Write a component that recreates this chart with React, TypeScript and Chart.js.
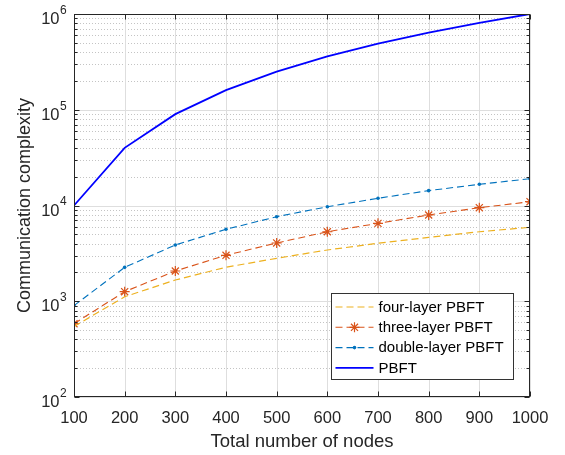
import React, { useEffect, useRef } from "react";
import { Chart, registerables } from "chart.js";

Chart.register(...registerables);

// Number of nodes in the network
const nodes = [100, 200, 300, 400, 500, 600, 700, 800, 900, 1000];

// Communication complexity for each consensus variant
const fourLayer = [545, 1114, 1667, 2265, 2810, 3430, 4030, 4650, 5320, 5920];
const threeLayer = [583, 1259, 2070, 3020, 4060, 5320, 6510, 7960, 9480, 10960];
const doubleLayer = [900, 2260, 3870, 5640, 7640, 9700, 11900, 14300, 16650, 19050];
const pbft = [10000, 40000, 90000, 160000, 250000, 360000, 490000, 640000, 810000, 1000000];

// Axis ticks
const xTicks = [100, 200, 300, 400, 500, 600, 700, 800, 900, 1000];
const yExponents = [2, 3, 4, 5, 6];

const seriesNames = ["four-layer PBFT", "three-layer PBFT", "double-layer PBFT", "PBFT"];

const FONT = "'Liberation Sans', Arial, Helvetica, sans-serif";
const AXIS_COLOR = "#262626";
const DASH = [7, 4];

const pairs = (ys: number[]) => nodes.map((x, i) => ({ x, y: ys[i] }));

// Every tick on the log axis: 1..9 x 10^n, plus the top decade
const logTickValues = (): { value: number; major: boolean }[] => {
  const out: { value: number; major: boolean }[] = [];
  const lo = yExponents[0];
  const hi = yExponents[yExponents.length - 1];
  for (let e = lo; e < hi; e++) {
    for (let s = 1; s <= 9; s++) out.push({ value: s * Math.pow(10, e), major: s === 1 });
  }
  out.push({ value: Math.pow(10, hi), major: true });
  return out;
};

const framePlugin = {
  id: "matlabFrame",
  beforeDatasetsDraw(chart: any) {
    const { ctx, chartArea, scales } = chart;
    const { left, right, top, bottom } = chartArea;
    const x = scales.x;
    const y = scales.y;
    ctx.save();
    ctx.lineWidth = 1;
    // minor dotted grid on the log axis
    ctx.strokeStyle = "#c4c4c4";
    ctx.setLineDash([1, 2]);
    for (const t of logTickValues()) {
      if (t.major) continue;
      const py = Math.round(y.getPixelForValue(t.value)) + 0.5;
      ctx.beginPath();
      ctx.moveTo(left, py);
      ctx.lineTo(right, py);
      ctx.stroke();
    }
    // major solid grid
    ctx.setLineDash([]);
    ctx.strokeStyle = "#dedede";
    for (const t of logTickValues()) {
      if (!t.major) continue;
      const py = Math.round(y.getPixelForValue(t.value)) + 0.5;
      ctx.beginPath();
      ctx.moveTo(left, py);
      ctx.lineTo(right, py);
      ctx.stroke();
    }
    for (const v of xTicks) {
      const px = Math.round(x.getPixelForValue(v)) + 0.5;
      ctx.beginPath();
      ctx.moveTo(px, top);
      ctx.lineTo(px, bottom);
      ctx.stroke();
    }
    ctx.restore();
  },
  afterDatasetsDraw(chart: any) {
    const { ctx, chartArea, scales } = chart;
    const { left, right, top, bottom } = chartArea;
    const x = scales.x;
    const y = scales.y;
    ctx.save();
    ctx.strokeStyle = AXIS_COLOR;
    ctx.lineWidth = 1;
    ctx.setLineDash([]);
    const L = Math.round(left) + 0.5;
    const R = Math.round(right) - 0.5;
    const T = Math.round(top) + 0.5;
    const B = Math.round(bottom) - 0.5;
    ctx.strokeRect(L, T, R - L, B - T);

    // inward tick marks
    ctx.beginPath();
    for (const v of xTicks) {
      const px = Math.round(x.getPixelForValue(v)) + 0.5;
      ctx.moveTo(px, B);
      ctx.lineTo(px, B - 5);
      ctx.moveTo(px, T);
      ctx.lineTo(px, T + 5);
    }
    for (const t of logTickValues()) {
      const py = Math.round(y.getPixelForValue(t.value)) + 0.5;
      const len = t.major ? 5 : 3;
      ctx.moveTo(L, py);
      ctx.lineTo(L + len, py);
      ctx.moveTo(R, py);
      ctx.lineTo(R - len, py);
    }
    ctx.stroke();

    // power-of-ten labels
    ctx.fillStyle = AXIS_COLOR;
    for (const e of yExponents) {
      const py = y.getPixelForValue(Math.pow(10, e));
      ctx.font = `16.5px ${FONT}`;
      ctx.textAlign = "right";
      ctx.textBaseline = "middle";
      ctx.fillText("10", left - 14.5, py + 5.5);
      ctx.font = `12px ${FONT}`;
      ctx.textAlign = "left";
      ctx.fillText(String(e), left - 14, py - 3.5);
    }

    // legend
    const boxRight = right - 17;
    const boxBottom = bottom - 18;
    const boxW = 182;
    const boxH = 86;
    const bx = Math.round(boxRight - boxW) + 0.5;
    const by = Math.round(boxBottom - boxH) + 0.5;
    ctx.fillStyle = "#ffffff";
    ctx.fillRect(bx, by, boxW, boxH);
    ctx.strokeStyle = "#333333";
    ctx.lineWidth = 1;
    ctx.strokeRect(bx, by, boxW, boxH);
    const datasets = chart.data.datasets;
    datasets.forEach((ds: any, i: number) => {
      const cy = by + 13.5 + i * 20.3;
      const x0 = bx + 4;
      const x1 = bx + 42;
      ctx.save();
      ctx.strokeStyle = ds.borderColor;
      ctx.lineWidth = ds.borderWidth;
      ctx.setLineDash(ds.borderDash || []);
      ctx.beginPath();
      ctx.moveTo(x0, cy);
      ctx.lineTo(x1, cy);
      ctx.stroke();
      ctx.restore();
      const mx = (x0 + x1) / 2;
      if (ds.pointStyle === "star") {
        ctx.save();
        ctx.strokeStyle = ds.borderColor;
        ctx.lineWidth = 1.2;
        const r = 5;
        ctx.beginPath();
        for (let k = 0; k < 4; k++) {
          const a = (k * Math.PI) / 4;
          ctx.moveTo(mx - r * Math.cos(a), cy - r * Math.sin(a));
          ctx.lineTo(mx + r * Math.cos(a), cy + r * Math.sin(a));
        }
        ctx.stroke();
        ctx.restore();
      } else if (ds.pointRadius > 0) {
        ctx.fillStyle = ds.borderColor;
        ctx.beginPath();
        ctx.arc(mx, cy, ds.pointRadius, 0, Math.PI * 2);
        ctx.fill();
      }
      ctx.fillStyle = "#000000";
      ctx.font = `15px ${FONT}`;
      ctx.textAlign = "left";
      ctx.textBaseline = "middle";
      ctx.fillText(ds.label, bx + 47, cy + 0.5);
    });
    ctx.restore();
  },
};

export default function App() {
  const canvasRef = useRef<HTMLCanvasElement | null>(null);

  useEffect(() => {
    const canvas = canvasRef.current;
    if (!canvas) return;
    const chart = new Chart(canvas, {
      type: "line",
      data: {
        datasets: [
          {
            label: seriesNames[0],
            data: pairs(fourLayer),
            borderColor: "#EDB120",
            backgroundColor: "#EDB120",
            borderWidth: 1.2,
            borderDash: DASH,
            pointRadius: 0,
            tension: 0,
          },
          {
            label: seriesNames[1],
            data: pairs(threeLayer),
            borderColor: "#D95319",
            backgroundColor: "#D95319",
            borderWidth: 1.1,
            borderDash: DASH,
            pointStyle: "star",
            pointRadius: 5,
            pointBorderWidth: 1.2,
            tension: 0,
          },
          {
            label: seriesNames[2],
            data: pairs(doubleLayer),
            borderColor: "#0072BD",
            backgroundColor: "#0072BD",
            borderWidth: 1.1,
            borderDash: DASH,
            pointStyle: "circle",
            pointRadius: 1.8,
            pointBorderWidth: 0,
            tension: 0,
          },
          {
            label: seriesNames[3],
            data: pairs(pbft),
            borderColor: "#0000FF",
            backgroundColor: "#0000FF",
            borderWidth: 1.8,
            pointRadius: 0,
            tension: 0,
          },
        ],
      },
      options: {
        responsive: false,
        animation: false,
        events: [],
        layout: { padding: { left: 0, right: 35, top: 14, bottom: 0 } },
        plugins: {
          legend: { display: false },
          tooltip: { enabled: false },
        },
        scales: {
          x: {
            type: "linear",
            min: 100,
            max: 1000,
            grid: { display: false },
            border: { display: false },
            afterBuildTicks: (axis: any) => {
              axis.ticks = xTicks.map((value) => ({ value }));
            },
            afterFit: (axis: any) => {
              axis.height = 58;
            },
            ticks: {
              autoSkip: false,
              maxRotation: 0,
              padding: 4,
              color: AXIS_COLOR,
              font: { family: FONT, size: 16.5 },
              callback: (v: any) => String(v),
            },
            title: {
              display: true,
              text: "Total number of nodes",
              color: AXIS_COLOR,
              font: { family: FONT, size: 18.5 },
              padding: { top: 0, bottom: 2 },
            },
          },
          y: {
            type: "logarithmic",
            min: 100,
            max: 1000000,
            grid: { display: false },
            border: { display: false },
            afterBuildTicks: (axis: any) => {
              axis.ticks = yExponents.map((e) => ({ value: Math.pow(10, e), major: true }));
            },
            afterFit: (axis: any) => {
              axis.width = 74;
            },
            ticks: { display: false },
            title: {
              display: true,
              text: "Communication complexity",
              color: AXIS_COLOR,
              font: { family: FONT, size: 18 },
              padding: { top: 14, bottom: 0 },
            },
          },
        },
      },
      plugins: [framePlugin],
    });
    return () => chart.destroy();
  }, []);

  return (
    <div style={{ position: "fixed", left: 0, top: 0, width: 565, height: 455, background: "#fff" }}>
      <canvas ref={canvasRef} width={565} height={455} style={{ display: "block", width: 565, height: 455 }} />
    </div>
  );
}
